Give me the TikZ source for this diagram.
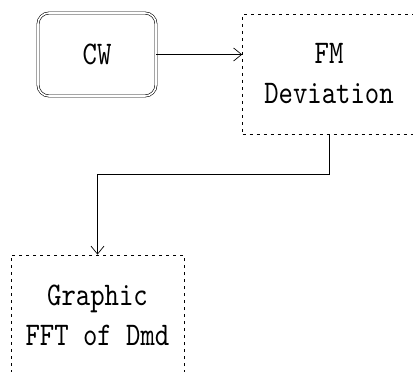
\documentclass[tikz,border=0pt]{standalone}
\usepackage{fontspec}
\newfontfamily\boxfont[FakeStretch=0.83]{lmmono10-regular.otf}
\usetikzlibrary{arrows.meta}
\tikzset{
  blk/.style={draw, line width=0.7pt, dash pattern=on 3pt off 4pt, minimum width=173pt, minimum height=120pt,
    inner sep=0pt, align=center, font=\boxfont\fontsize{33}{40}\selectfont},
  src/.style={draw, line width=0.6pt, double, double distance=1.6pt, rounded corners=11pt, minimum width=118pt,
    minimum height=83pt, inner sep=0pt, font=\boxfont\fontsize{33}{40}\selectfont},
  link/.style={draw, line width=0.7pt, -{Straight Barb[length=8pt,width=13pt]}}
}
\begin{document}
\begin{tikzpicture}[x=1pt,y=-1pt]
    % 页面大小
    \useasboundingbox (0,0) rectangle (413,372);
    % 三个方框
    \node[src] (cw) at (97,54.5) {CW};
    \node[blk] (fm) at (329,74) {FM\\Deviation};
    \node[blk] (gfx) at (97.5,315) {Graphic\\FFT of Dmd};
    % 连线
    \draw[link] (cw.east) -- (cw.east -| fm.west);
    \draw[link] (fm.south) -- ++(0,40) -| (gfx.north);
\end{tikzpicture}
\end{document}
